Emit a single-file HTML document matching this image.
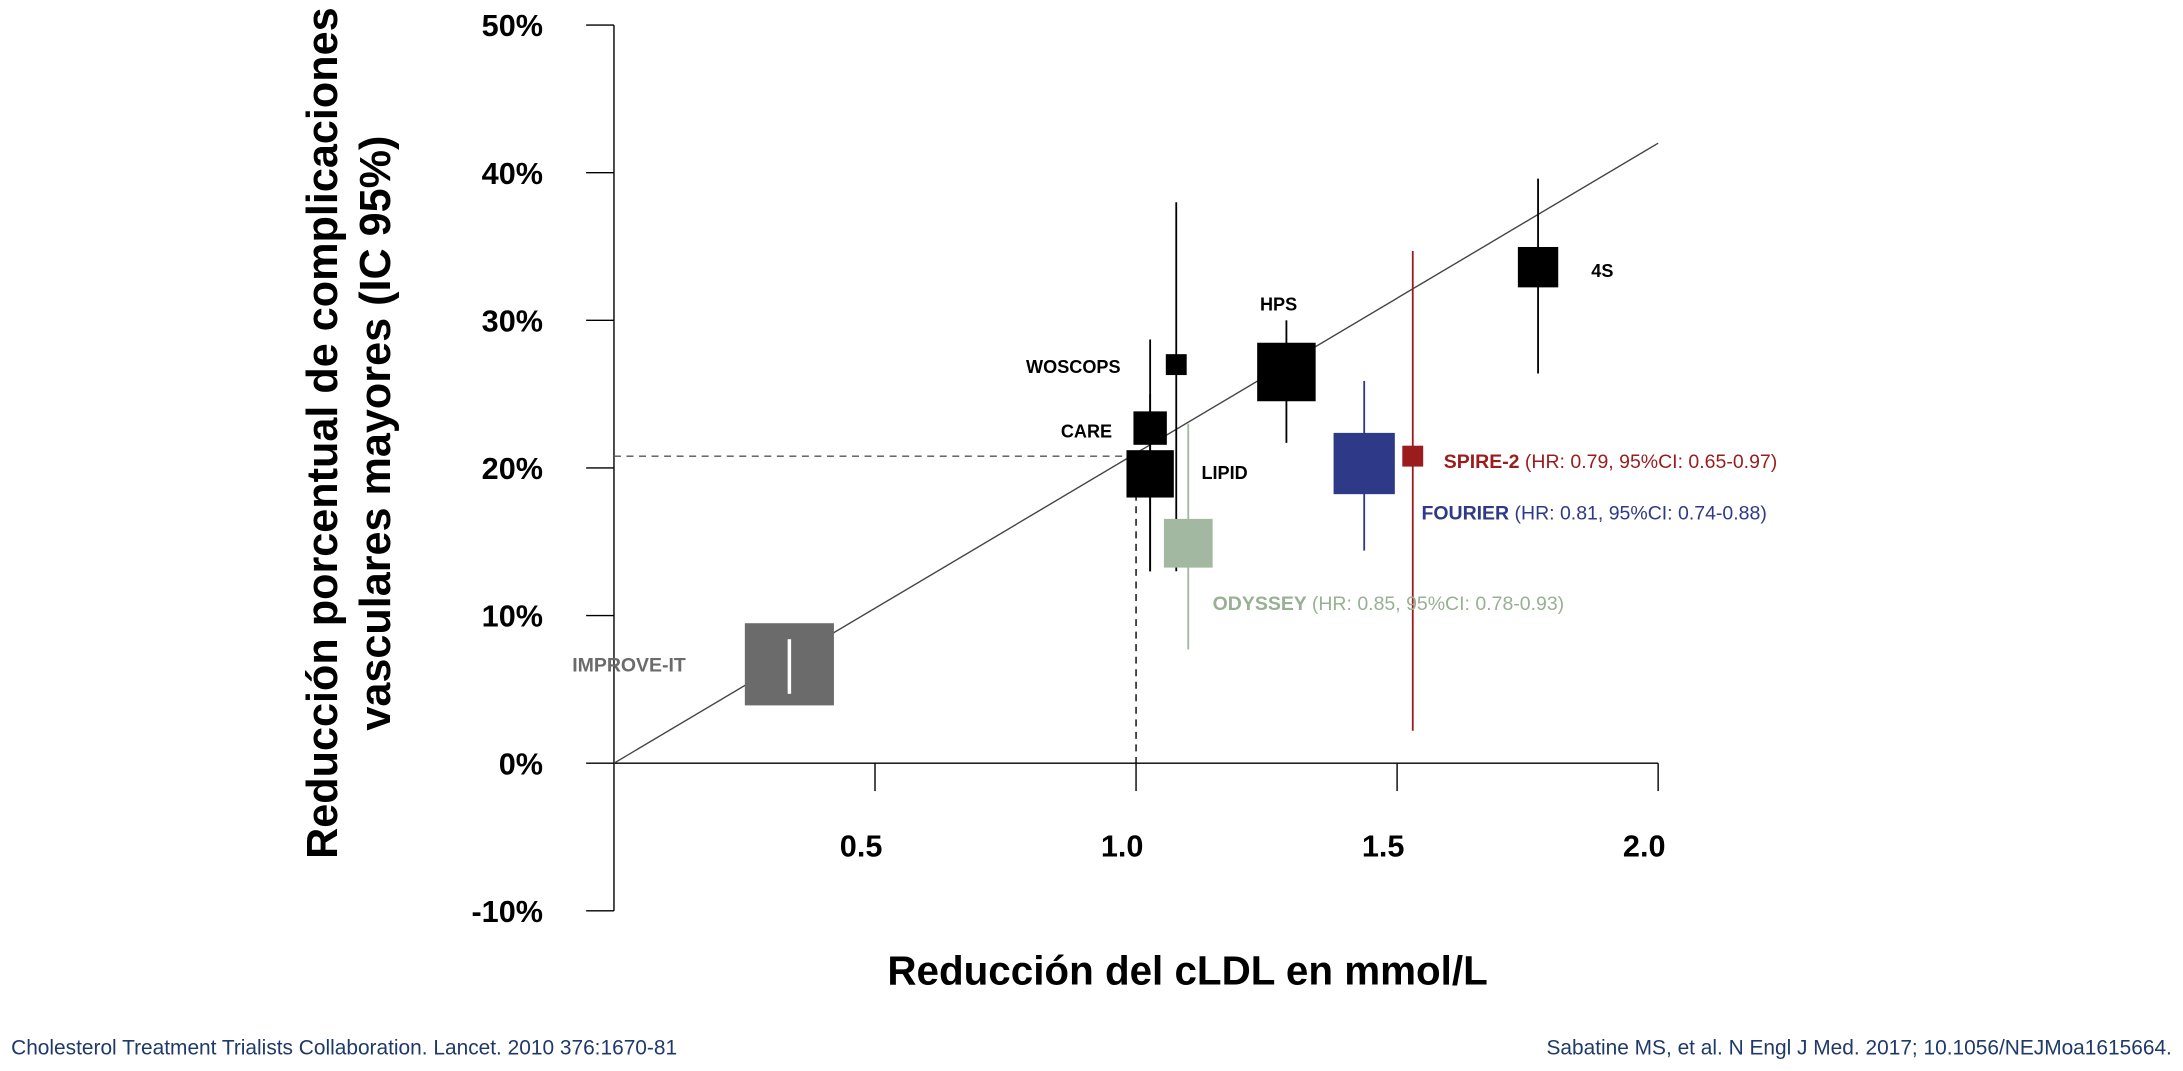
<!DOCTYPE html>
<html><head><meta charset="utf-8"><style>
body{margin:0;background:#fff;}
svg{display:block;}
text{font-family:"Liberation Sans",sans-serif;}
</style></head><body>
<svg id="chart" width="2183" height="1071" viewBox="0 0 1568 769" preserveAspectRatio="none" xmlns="http://www.w3.org/2000/svg">
<g id="axes"></g>
<g id="marks"></g>
<text transform="translate(242,311) rotate(-90)" text-anchor="middle" font-size="31" font-weight="bold">Reducción porcentual de complicaciones</text>
<text transform="translate(280,311) rotate(-90)" text-anchor="middle" font-size="31" font-weight="bold">vasculares mayores (IC 95%)</text>
<text x="853" y="707" text-anchor="middle" font-size="29" font-weight="bold">Reducción del cLDL en mmol/L</text>
<text x="8" y="757" font-size="15" fill="#1f3a6a">Cholesterol Treatment Trialists Collaboration. Lancet. 2010 376:1670-81</text>
<text x="1560" y="757" text-anchor="end" font-size="15" fill="#1f3a6a">Sabatine MS, et al. N Engl J Med. 2017; 10.1056/NEJMoa1615664.</text>
</svg>
<script>
const yTicks=[50,40,30,20,10,0,-10];
const yTickLabels=["50%","40%","30%","20%","10%","0%","-10%"];
const xTicks=[0.5,1.0,1.5,2.0];
const xTickLabels=["0.5","1.0","1.5","2.0"];
const trials=["IMPROVE-IT","CARE","WOSCOPS","LIPID","HPS","4S","ODYSSEY","FOURIER","SPIRE-2"];
const ldl=[0.336,1.027,1.077,1.027,1.288,1.77,1.10,1.437,1.53];
const rr=[6.7,22.7,27.0,19.6,26.5,33.6,14.9,20.3,20.8];
const ciLow=[4.7,13.0,13.0,13.0,21.7,26.4,7.7,14.4,2.2];
const ciHigh=[8.4,28.7,38.0,25.0,30.0,39.6,23.0,25.9,34.7];
const boxSize=[64,24,15,34,42,29,35,44,15];
const regLine=[[0,0],[2.0,42]];
const refPoint=[1.0,20.8];

const NS="http://www.w3.org/2000/svg";
const X=v=>441+v*375;
const Y=v=>548-v*10.6;
function el(t,a,p){const e=document.createElementNS(NS,t);for(const k in a)e.setAttribute(k,a[k]);p.appendChild(e);return e;}
const ax=document.getElementById('axes'),mk=document.getElementById('marks');
let e=el('line',{x1:X(0),y1:Y(50),x2:X(0),y2:Y(-10),stroke:'#000','stroke-width':1},ax);


e=el('line',{x1:X(0),y1:Y(0),x2:X(2),y2:Y(0),stroke:'#000','stroke-width':1},ax);


yTicks.forEach((t,i)=>{
 let l=el('line',{x1:X(0)-20,y1:Y(t),x2:X(0),y2:Y(t),stroke:'#000'},ax);
 
 
 let tx=el('text',{x:390,y:Y(t)+8,'text-anchor':'end','font-size':22,'font-weight':'bold'},ax);tx.textContent=yTickLabels[i];
 
 
});
xTicks.forEach((t,i)=>{
 let l=el('line',{x1:X(t),y1:Y(0),x2:X(t),y2:Y(0)+20,stroke:'#000'},ax);
 
 
 let tx=el('text',{x:X(t)-10,y:615,'text-anchor':'middle','font-size':22,'font-weight':'bold'},ax);tx.textContent=xTickLabels[i];
 
 
});
e=el('line',{x1:X(regLine[0][0]),y1:Y(regLine[0][1]),x2:X(regLine[1][0]),y2:Y(regLine[1][1]),stroke:'#444','stroke-width':1},mk);


e=el('line',{x1:X(0),y1:Y(refPoint[1]),x2:X(refPoint[0]),y2:Y(refPoint[1]),stroke:'#555','stroke-dasharray':'5,4'},mk);


e=el('line',{x1:X(refPoint[0]),y1:Y(refPoint[1]),x2:X(refPoint[0]),y2:Y(0),stroke:'#000','stroke-dasharray':'5,4'},mk);


const colors=['#6b6b6b','#000','#000','#000','#000','#000','#a3b8a0','#2e3a87','#9b1c1c'];
const ciColors=['#fff','#000','#000','#000','#000','#000','#a3b8a0','#2e3a87','#9b1c1c'];
trials.forEach((n,i)=>{
 const cx=X(ldl[i]),cy=Y(rr[i]),s=boxSize[i];
 let h=i===0?59:s;
 if(i!==0){let c=el('line',{x1:cx,y1:Y(ciLow[i]),x2:cx,y2:Y(ciHigh[i]),stroke:ciColors[i],'stroke-width':1.3},mk);
  
  }
 let r=el('rect',{x:cx-s/2,y:cy-h/2,width:s,height:h,fill:colors[i]},mk);
 
 
 if(i===0){let c=el('line',{x1:cx,y1:Y(ciLow[i]),x2:cx,y2:Y(ciHigh[i]),stroke:'#fff','stroke-width':2.5},mk);
  
  }
});
function lab(txt,x,y,opts,name){let t=el('text',Object.assign({x:x,y:y,'font-size':13,'font-weight':'bold'},opts),mk);t.innerHTML=txt;
 
 return t;}
lab('IMPROVE-IT',411,482,{fill:'#6b6b6b','font-size':14},'label-improve-it');
lab('CARE',762,314,{},'label-care');
lab('WOSCOPS',737,268,{},'label-woscops');
lab('LIPID',863,344,{},'label-lipid');
lab('HPS',905,223,{},'label-hps');
lab('4S',1143,199,{},'label-4s');
lab('SPIRE-2 <tspan font-weight="normal">(HR: 0.79, 95%CI: 0.65-0.97)</tspan>',1037,336,{fill:'#9b1c1c','font-size':14},'label-spire-2');
lab('FOURIER <tspan font-weight="normal">(HR: 0.81, 95%CI: 0.74-0.88)</tspan>',1021,373,{fill:'#2e3a87','font-size':14},'label-fourier');
lab('ODYSSEY <tspan font-weight="normal">(HR: 0.85, 95%CI: 0.78-0.93)</tspan>',871,438,{fill:'#98b094','font-size':14},'label-odyssey');
</script>
</body></html>
